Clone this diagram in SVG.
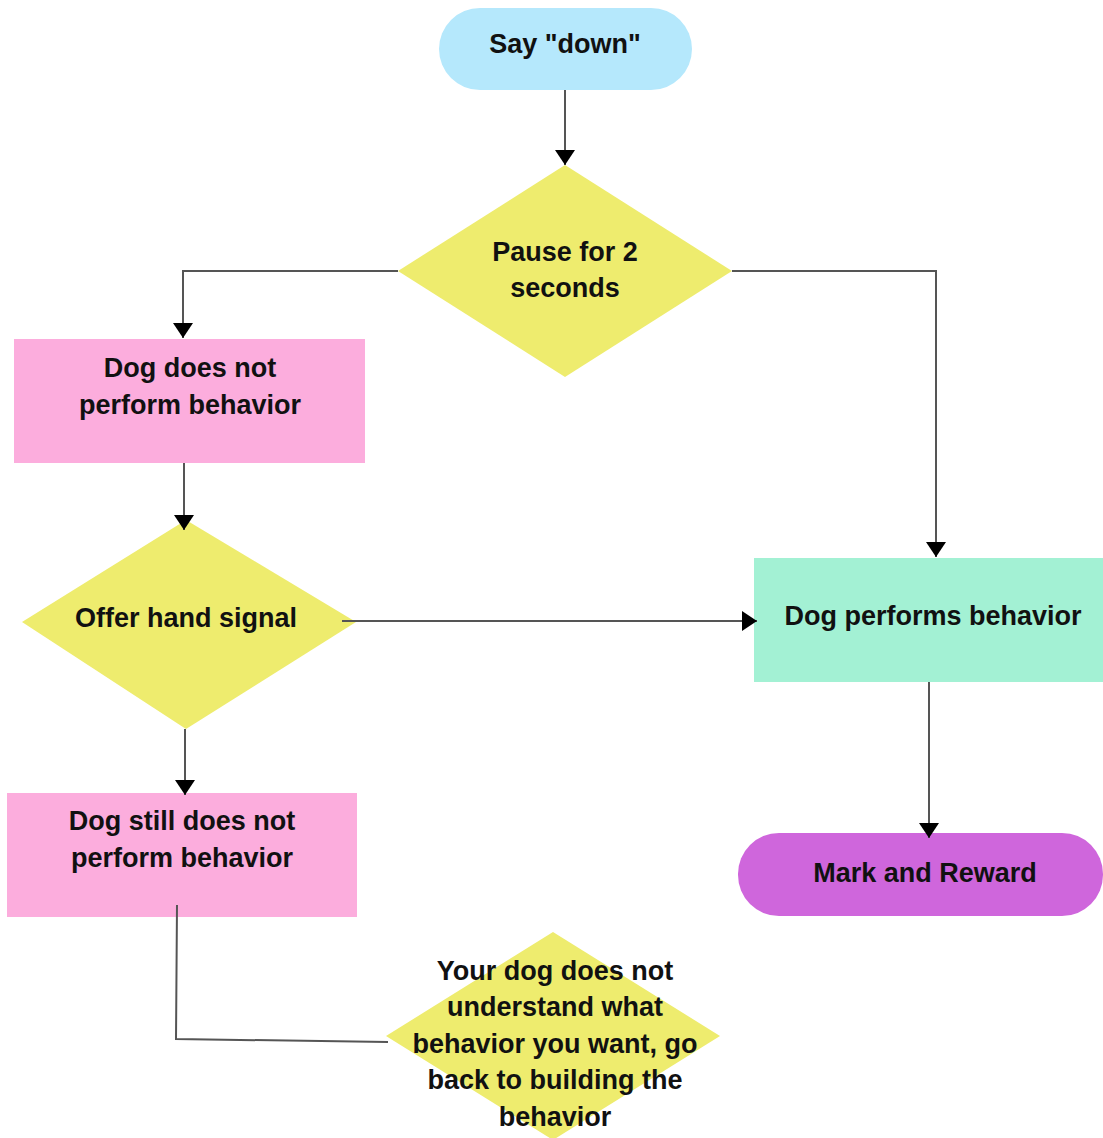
<svg xmlns="http://www.w3.org/2000/svg" width="1103" height="1138" viewBox="0 0 1103 1138">
<style>
text{font-family:"Liberation Sans",Arial,sans-serif;font-weight:bold;font-size:27px;fill:#111;text-anchor:middle}
.ln{fill:none;stroke:#555;stroke-width:2}
.dia{fill:#eeec6e}
.pink{fill:#fcaddd}
</style>
<defs>
<marker id="ah" markerUnits="userSpaceOnUse" markerWidth="16" markerHeight="22" refX="15" refY="11" orient="auto">
<path d="M0,1 L15,11 L0,21 Z" fill="#000"/>
</marker>
</defs>
<rect width="1103" height="1138" fill="#fff"/>
<g id="say-down">
<rect x="439" y="8" width="253" height="82" rx="41" fill="#b5e8fc"/>
<text x="565" y="53">Say "down"</text>
</g>
<g id="pause">
<polygon class="dia" points="565,165 732,271 565,377 398,271"/>
<text x="565" y="261">Pause for 2</text>
<text x="565" y="297">seconds</text>
</g>
<g id="not-perform">
<rect class="pink" x="14" y="339" width="351" height="124"/>
<text x="190" y="377">Dog does not</text>
<text x="190" y="414">perform behavior</text>
</g>
<g id="performs">
<rect x="754" y="558" width="349" height="124" fill="#a3f1d4"/>
<text x="933" y="625">Dog performs behavior</text>
</g>
<g id="hand-signal">
<polygon class="dia" points="186,520 356,622 186,729 22,622"/>
<text x="186" y="627">Offer hand signal</text>
</g>
<g id="still-not">
<rect class="pink" x="7" y="793" width="350" height="124"/>
<text x="182" y="830">Dog still does not</text>
<text x="182" y="867">perform behavior</text>
</g>
<g id="mark-reward">
<rect x="738" y="833" width="365" height="83" rx="41" fill="#cf66dc"/>
<text x="925" y="882">Mark and Reward</text>
</g>
<g id="not-understand">
<polygon class="dia" points="553,932 720,1036 553,1140 386,1036"/>
<text x="555" y="980">Your dog does not</text>
<text x="555" y="1016">understand what</text>
<text x="555" y="1053">behavior you want, go</text>
<text x="555" y="1089">back to building the</text>
<text x="555" y="1126">behavior</text>
</g>
<g id="connectors">
<path class="ln" d="M565,90 V165" marker-end="url(#ah)"/>
<path class="ln" d="M398,271 H183 V338" marker-end="url(#ah)"/>
<path class="ln" d="M732,271 H936 V557" marker-end="url(#ah)"/>
<path class="ln" d="M184,463 V530" marker-end="url(#ah)"/>
<path class="ln" d="M342,621 H757" marker-end="url(#ah)"/>
<path class="ln" d="M185,729 V795" marker-end="url(#ah)"/>
<path class="ln" d="M929,682 V838" marker-end="url(#ah)"/>
<path class="ln" d="M177,905 L176,1039 L388,1042"/>
</g>
</svg>
